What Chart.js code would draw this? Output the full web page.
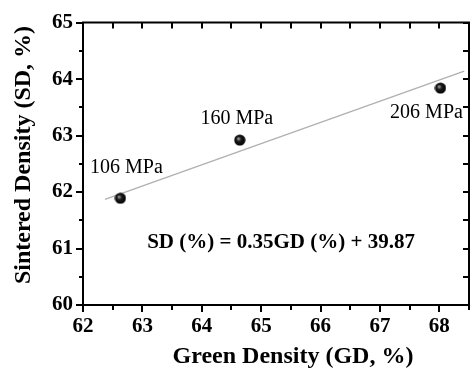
<!DOCTYPE html>
<html><head><meta charset="utf-8">
<script src="https://cdn.jsdelivr.net/npm/chart.js@4.4.0/dist/chart.umd.min.js"></script>
<style>html,body{margin:0;padding:0;overflow:hidden;background:#fff}
#wrap{width:476px;height:374px;position:relative}</style>
</head><body><div id="wrap"><canvas id="c" width="476" height="374"></canvas></div>
<script>
const pressures = ['106 MPa', '160 MPa', '206 MPa'];
const greenDensity = [62.63, 64.64, 68.02];
const sinteredDensity = [61.89, 62.92, 63.84];
const fitX = [62.37, 68.42];
const fitY = [61.87, 64.14];
const xTicks = [62, 63, 64, 65, 66, 67, 68];
const yTicks = [60, 61, 62, 63, 64, 65];
const equation = 'SD (%) = 0.35GD (%) + 39.87';
const xTitle = 'Green Density (GD, %)';
const yTitle = 'Sintered Density (SD, %)';

const SERIF = "'Liberation Serif', 'Times New Roman', serif";

// sphere-like marker
const dot = document.createElement('canvas');
dot.width = 12; dot.height = 12;
(function(){
  const g = dot.getContext('2d');
  const gr = g.createRadialGradient(4.5, 4.5, 0.5, 6, 6, 6);
  gr.addColorStop(0, '#9a9a9a');
  gr.addColorStop(0.35, '#1a1a1a');
  gr.addColorStop(1, '#000');
  g.fillStyle = gr;
  g.beginPath(); g.arc(6, 6, 5.6, 0, Math.PI * 2); g.fill();
})();

const labelOffsets = [[6, -31], [-3, -21], [-14, 25]];

const decor = {
  id: 'decor',
  afterDraw(chart) {
    const ctx = chart.ctx;
    const xs = chart.scales.x, ys = chart.scales.y;
    const a = chart.chartArea;
    ctx.save();
    ctx.strokeStyle = '#000';
    ctx.lineWidth = 2;
    ctx.beginPath();
    ctx.moveTo(a.left, a.top); ctx.lineTo(a.right, a.top);
    ctx.moveTo(a.left, a.bottom); ctx.lineTo(a.right, a.bottom);
    ctx.moveTo(a.left, a.top - 1); ctx.lineTo(a.left, a.bottom + 1);
    ctx.moveTo(a.right, a.top - 1); ctx.lineTo(a.right, a.bottom + 1);
    ctx.stroke();
    ctx.beginPath();
    for (let v = xs.min; v <= xs.max + 1e-9; v += 0.5) {
      const px = Math.round(xs.getPixelForValue(v));
      const major = Math.abs(v - Math.round(v)) < 1e-9;
      ctx.moveTo(px, a.bottom); ctx.lineTo(px, a.bottom + (major ? 7 : 5));
      ctx.moveTo(px, a.top); ctx.lineTo(px, a.top + 6);
    }
    for (let v = ys.min; v <= ys.max + 1e-9; v += 0.5) {
      const py = Math.round(ys.getPixelForValue(v));
      const major = Math.abs(v - Math.round(v)) < 1e-9;
      ctx.moveTo(a.left, py); ctx.lineTo(a.left - (major ? 7 : 4), py);
      ctx.moveTo(a.right, py); ctx.lineTo(a.right - 6, py);
    }
    ctx.stroke();

    // point labels
    ctx.fillStyle = '#000';
    ctx.font = '20px ' + SERIF;
    ctx.textAlign = 'center';
    ctx.textBaseline = 'middle';
    pressures.forEach((t, i) => {
      const px = xs.getPixelForValue(greenDensity[i]) + labelOffsets[i][0];
      const py = ys.getPixelForValue(sinteredDensity[i]) + labelOffsets[i][1];
      ctx.fillText(t, px, py);
    });
    // equation
    ctx.font = 'bold 21px ' + SERIF;
    ctx.fillText(equation, 281, 243);
    // axis titles
    ctx.font = 'bold 24px ' + SERIF;
    ctx.fillText(xTitle, 293, 357);
    ctx.translate(24, 155);
    ctx.rotate(-Math.PI / 2);
    ctx.fillText(yTitle, 0, 0);
    ctx.restore();
  }
};

new Chart(document.getElementById('c'), {
  type: 'scatter',
  data: {
    datasets: [
      {
        label: 'fit',
        data: fitX.map((x, i) => ({ x, y: fitY[i] })),
        showLine: true,
        borderColor: '#b0b0b0',
        borderWidth: 1.3,
        pointRadius: 0,
        order: 2
      },
      {
        label: 'SD',
        data: greenDensity.map((x, i) => ({ x, y: sinteredDensity[i] })),
        pointStyle: dot,
        pointRadius: 6,
        order: 1
      }
    ]
  },
  options: {
    responsive: false,
    animation: false,
    devicePixelRatio: 1,
    layout: { padding: { top: 16, right: 3, left: 0, bottom: 0 } },
    plugins: { legend: { display: false }, tooltip: { enabled: false } },
    scales: {
      x: {
        type: 'linear', position: 'bottom', min: 62, max: 68.5,
        afterBuildTicks: s => { s.ticks = xTicks.map(v => ({ value: v })); },
        afterFit: s => { s.height = 69; },
        grid: { display: false, drawTicks: false },
        border: { display: false },
        ticks: { color: '#000', padding: 9, font: { family: SERIF, size: 21, weight: 'bold' }, callback: v => String(v) }
      },
      y: {
        type: 'linear', position: 'left', min: 60, max: 65,
        afterBuildTicks: s => { s.ticks = yTicks.map(v => ({ value: v })); },
        afterFit: s => { s.width = 83; },
        grid: { display: false, drawTicks: false },
        border: { display: false },
        ticks: { color: '#000', padding: 10, font: { family: SERIF, size: 21, weight: 'bold' }, callback: v => String(v) }
      }
    }
  },
  plugins: [decor]
});
</script></body></html>
